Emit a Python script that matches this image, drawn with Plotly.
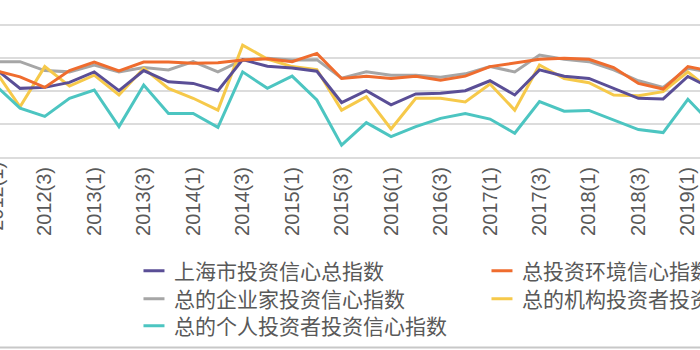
import plotly.graph_objects as go

# Quarterly categories, 2012 Q1 through 2019 Q2
quarters = [
    "2012(1)", "2012(2)", "2012(3)", "2012(4)",
    "2013(1)", "2013(2)", "2013(3)", "2013(4)",
    "2014(1)", "2014(2)", "2014(3)", "2014(4)",
    "2015(1)", "2015(2)", "2015(3)", "2015(4)",
    "2016(1)", "2016(2)", "2016(3)", "2016(4)",
    "2017(1)", "2017(2)", "2017(3)", "2017(4)",
    "2018(1)", "2018(2)", "2018(3)", "2018(4)",
    "2019(1)", "2019(2)",
]

tick_labels = [
    "2012(1)", "2012(3)", "2013(1)", "2013(3)", "2014(1)", "2014(3)",
    "2015(1)", "2015(3)", "2016(1)", "2016(3)", "2017(1)", "2017(3)",
    "2018(1)", "2018(3)", "2019(1)",
]

shanghai_total = [
    86.8, 80.8, 81.1, 82.6, 85.8, 80.1, 86.2, 82.8, 82.3, 80.1,
    89.5, 87.5, 87.0, 86.0, 76.5, 80.1, 75.8, 79.1, 79.3, 80.1,
    83.1, 78.8, 86.4, 84.5, 83.8, 80.8, 77.8, 77.6, 84.4, 80.6,
]
environment = [
    86.2, 84.3, 81.1, 86.2, 88.8, 86.1, 88.8, 88.8, 88.4, 88.6,
    89.4, 89.8, 88.9, 91.4, 83.8, 84.5, 83.8, 84.5, 83.3, 84.5,
    87.4, 88.4, 89.6, 89.9, 89.6, 87.1, 82.3, 80.6, 87.4, 85.9,
]
entrepreneur = [
    88.9, 88.9, 86.2, 85.8, 87.9, 85.8, 87.1, 86.4, 88.9, 85.8,
    89.4, 89.9, 89.4, 89.5, 83.9, 85.8, 84.8, 84.8, 84.2, 85.2,
    87.4, 85.8, 90.9, 89.6, 88.9, 86.4, 83.1, 81.1, 86.9, 85.5,
]
institutional = [
    86.1, 75.2, 87.4, 81.5, 84.8, 78.8, 86.9, 80.8, 77.8, 74.2,
    93.9, 89.7, 87.4, 86.5, 74.2, 78.3, 68.5, 77.8, 77.8, 76.7,
    82.1, 74.2, 87.9, 83.8, 82.5, 78.8, 78.6, 79.8, 85.8, 79.7,
]
individual = [
    81.8, 74.8, 72.3, 77.8, 80.3, 69.2, 81.8, 73.2, 73.2, 69.0,
    85.8, 80.8, 84.5, 77.3, 63.6, 70.4, 66.2, 69.2, 71.7, 73.2,
    71.5, 67.2, 76.8, 73.9, 74.1, 71.2, 68.3, 67.4, 77.5, 69.7,
]

# name, values, colour, legend row
series = {
    "上海市投资信心总指数": (shanghai_total, "#5a4e96", "legend"),
    "总投资环境信心指数": (environment, "#ef6c2e", "legend"),
    "总的企业家投资信心指数": (entrepreneur, "#a6a6a6", "legend2"),
    "总的机构投资者投资信心指数": (institutional, "#f6c94a", "legend2"),
    "总的个人投资者投资信心指数": (individual, "#4cc5c1", "legend3"),
}
draw_order = [
    "总的企业家投资信心指数",
    "总的机构投资者投资信心指数",
    "总的个人投资者投资信心指数",
    "上海市投资信心总指数",
    "总投资环境信心指数",
]

X_RANGE = [0.19, 28.49]
Y_RANGE = [60, 107.58]

TICK_FONT = dict(family="Liberation Sans, Arial, sans-serif", size=20, color="#595959")
LEGEND_FONT = dict(family="Noto Sans CJK SC, sans-serif", size=21, color="#595959")
GRID = "#dcdcdc"

fig = go.Figure()

for name in draw_order:
    vals, color, _ = series[name]
    fig.add_trace(go.Scatter(
        x=quarters, y=vals, mode="lines", name=name,
        line=dict(color=color, width=3),
        showlegend=False, hoverinfo="skip",
    ))

# Legend entries with short dash symbols
for name, (vals, color, leg) in series.items():
    fig.add_trace(go.Scatter(
        x=[None], y=[None], mode="markers", name=name, legend=leg,
        marker=dict(symbol="line-ew", size=15, color=color,
                    line=dict(color=color, width=3)),
    ))

legend_common = dict(
    orientation="h", xanchor="left", yanchor="middle", x=0.1914,
    entrywidth=303, entrywidthmode="pixels",
    font=LEGEND_FONT, bgcolor="rgba(0,0,0,0)", traceorder="normal",
)

# First category label, which sits just outside the visible range
first_x = (0 - X_RANGE[0]) / (X_RANGE[1] - X_RANGE[0])

fig.update_layout(
    width=700, height=350,
    margin=dict(l=0, r=0, t=0, b=193, autoexpand=False),
    paper_bgcolor="white", plot_bgcolor="white",
    xaxis=dict(
        type="category", range=X_RANGE,
        tickmode="array", tickvals=tick_labels, ticktext=tick_labels,
        tickangle=-90, tickfont=TICK_FONT, ticks="",
        showgrid=False, showline=True, linecolor=GRID, linewidth=2,
        zeroline=False,
    ),
    yaxis=dict(
        range=Y_RANGE, tick0=60, dtick=10, showticklabels=False,
        showgrid=True, gridcolor=GRID, gridwidth=2, zeroline=False,
        showline=False, ticks="",
    ),
    legend=dict(legend_common, y=(157 - 271) / 157),
    legend2=dict(legend_common, y=(157 - 299) / 157),
    legend3=dict(legend_common, y=(157 - 326) / 157),
    annotations=[dict(
        text="2012(1)", xref="paper", yref="paper", x=first_x, y=0,
        xanchor="center", yanchor="top", yshift=-3, textangle=-90,
        showarrow=False, font=TICK_FONT,
    )],
    shapes=[dict(
        type="line", xref="paper", yref="paper", x0=-0.01, x1=1.01,
        y0=(157 - 347.5) / 157, y1=(157 - 347.5) / 157,
        line=dict(color="#c8c8c8", width=2),
    )],
    showlegend=True,
)

fig.write_html("out.html")
